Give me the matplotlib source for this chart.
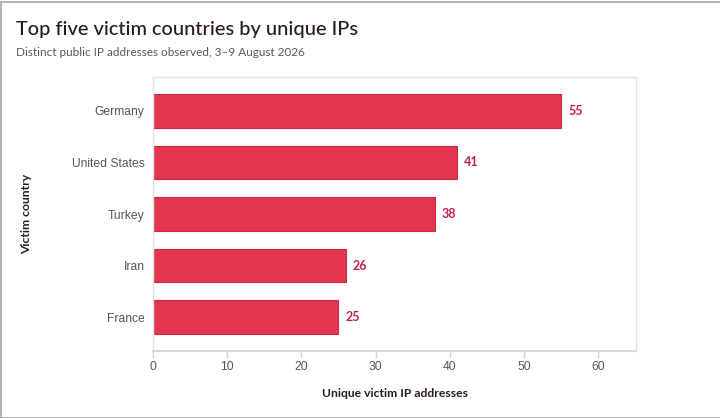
import matplotlib.pyplot as plt
from matplotlib.patches import Rectangle

# data
countries = ["Germany", "United States", "Turkey", "Iran", "France"]
unique_ips = [55, 41, 38, 26, 25]

bar_color = "#E3354F"
edge_color = "#C92A45"
label_color = "#C0234A"
text_dark = "#2B1A20"
tick_gray = "#5A5458"
frame_gray = "#D0D0D0"

fig = plt.figure(figsize=(7.2, 4.18), dpi=100, facecolor="white")
ax = fig.add_axes([153 / 720, 1 - 351 / 418, (636 - 153) / 720, (351 - 77) / 418])

ypos = list(range(len(countries)))
ax.barh(ypos, unique_ips, height=0.65, color=bar_color, edgecolor=edge_color, linewidth=0.8, zorder=2)

for y, v in zip(ypos, unique_ips):
    ax.annotate(str(v), xy=(v, y), xytext=(5, 0), textcoords="offset points",
                va="center", ha="left", fontsize=9, fontweight="bold",
                color=label_color, family="Lato")

ax.set_xlim(0, 65.1)
ax.set_ylim(len(countries) - 0.34, -0.66)
ax.set_yticks(ypos)
ax.set_yticklabels(countries, family="Liberation Sans", fontsize=8.7, color=tick_gray)
ax.set_xticks(range(0, 61, 10))
ax.set_xticklabels([str(t) for t in range(0, 61, 10)], family="Liberation Sans",
                   fontsize=8.7, color=tick_gray)
ax.tick_params(axis="y", length=0, pad=6)
ax.tick_params(axis="x", length=5, width=1, color=frame_gray, pad=2)

for side in ["top", "right", "left"]:
    ax.spines[side].set_color("#E2E2E2")
    ax.spines[side].set_linewidth(1)
ax.spines["bottom"].set_color(frame_gray)
ax.spines["bottom"].set_linewidth(1.2)

ax.set_xlabel("Unique victim IP addresses", family="Lato", fontsize=8.7,
              fontweight="bold", color=text_dark, labelpad=11)
fig.text(27 / 720, 1 - 214 / 418, "Victim country", rotation=90, ha="center", va="center",
         family="Lato", fontsize=8.7, fontweight="bold", color=text_dark)

fig.text(16 / 720, 1 - 29 / 418, "Top five victim countries by unique IPs", ha="left", va="center",
         family="Lato", fontsize=14.4, fontweight="medium", color=text_dark)
fig.text(16 / 720, 1 - 52 / 418, "Distinct public IP addresses observed, 3\u20139 August 2026",
         ha="left", va="center", family="Lato", fontsize=8.5, color="#5E5559")

# outer card border
fig.patches.append(Rectangle((0.5 / 720, 0.5 / 418), 1.2, 1 - 2 / 418, transform=fig.transFigure,
                             fill=False, edgecolor="#A8A8A8", linewidth=1.2))

fig.savefig("out.png", dpi=100)
